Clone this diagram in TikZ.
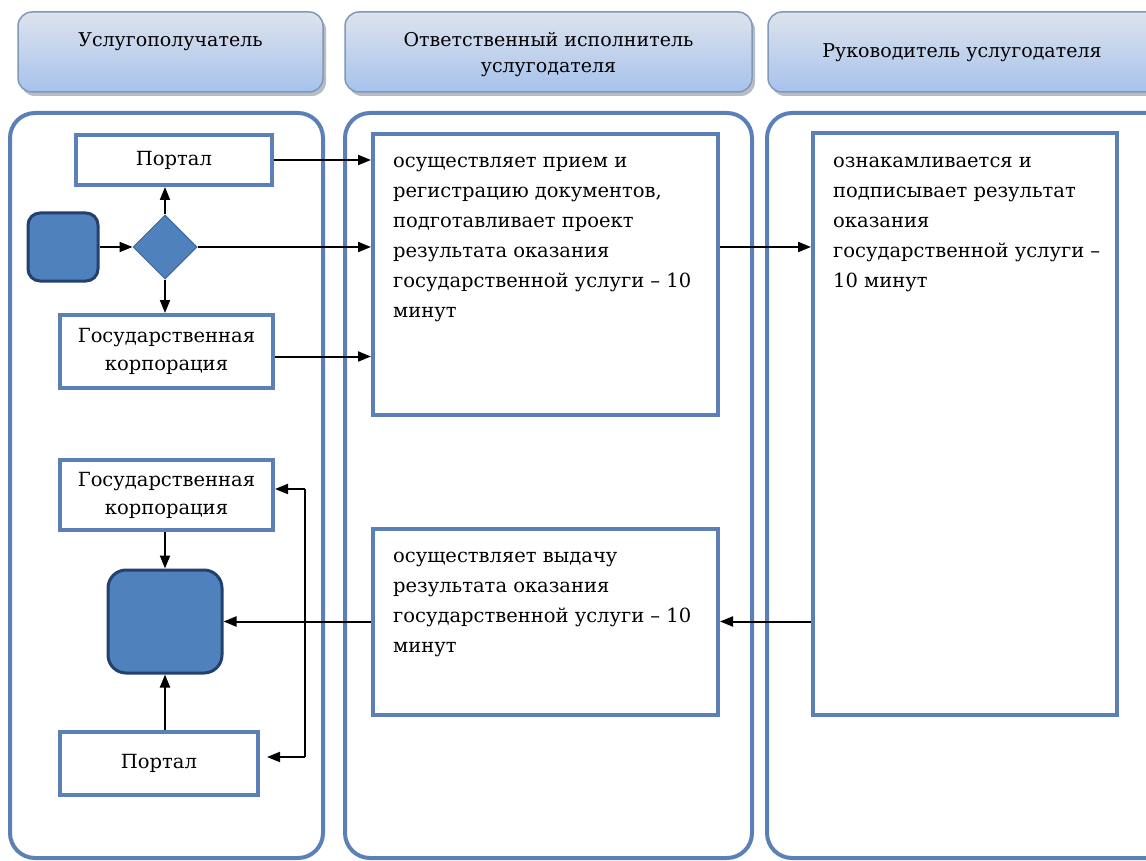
\documentclass[tikz,border=0pt]{standalone}
\usepackage{fontspec}
\setmainfont{DejaVu Serif}
\newfontfamily\tnr{DejaVu Serif}
\usetikzlibrary{shapes.geometric,arrows.meta}
\definecolor{laneblue}{HTML}{5B80B8}
\definecolor{fillblue}{HTML}{4F81BD}
\definecolor{darkblue}{HTML}{24406E}
\definecolor{hdrtop}{HTML}{DDE3EC}
\definecolor{hdrbot}{HTML}{A6C2EC}
\definecolor{hdredge}{HTML}{8298B8}
\definecolor{shadowgray}{HTML}{B8BCC4}
\begin{document}
\begin{tikzpicture}[x=1pt,y=-1pt,
  lane/.style={draw=laneblue, line width=4pt, rounded corners=25pt},
  hdr/.style={draw=hdredge, line width=1.5pt, rounded corners=14pt, top color=hdrtop, bottom color=hdrbot},
  hshadow/.style={fill=shadowgray, rounded corners=14pt},
  hdrtext/.style={font=\tnr\fontsize{19}{26}\selectfont, align=center, inner sep=0pt},
  stepbox/.style={draw=laneblue, line width=4pt, fill=white, inner sep=0pt, font=\tnr\fontsize{19.5}{28}\selectfont, align=center},
  bigbox/.style={draw=laneblue, line width=4pt, fill=white, inner sep=0pt},
  txt/.style={font=\tnr\fontsize{19.5}{30}\selectfont, align=left, anchor=north west, inner sep=0pt},
  term/.style={draw=darkblue, line width=3pt, fill=fillblue, inner sep=0pt},
  decision/.style={diamond, draw=fillblue!80!black, line width=1pt, fill=fillblue, inner sep=0pt},
  arr/.style={-{Triangle[length=13pt,width=10pt]}, line width=2pt},
  ln/.style={line width=2pt}
]
\clip (0,0) rectangle (1146,861);
\fill[white] (0,0) rectangle (1146,861);

% headers
\fill[hshadow] (21,16) rectangle (326,96);
\draw[hdr] (18,12) rectangle (323,92);
\node[hdrtext] (h1) at (170.5,42) {Услугополучатель};
\fill[hshadow] (348,16) rectangle (755,96);
\draw[hdr] (345,12) rectangle (752,92);
\node[hdrtext] (h2) at (548.5,55) {Ответственный исполнитель\\услугодателя};
\fill[hshadow] (771,16) rectangle (1170,96);
\draw[hdr] (768,12) rectangle (1167,92);
\node[hdrtext] (h3) at (962,53) {Руководитель услугодателя};

% lanes
\draw[lane] (10,113) rectangle (323,858);
\draw[lane] (345,113) rectangle (752,858);
\draw[lane] (767,113) rectangle (1180,858);

% lane 1 nodes
\node[stepbox, minimum width=196pt, minimum height=50pt] (p1) at (174,160) {Портал};
\node[term, rounded corners=12pt, minimum width=70pt, minimum height=68pt] (s) at (63,247) {};
\node[decision, minimum width=64pt, minimum height=64pt] (d) at (165,247) {};
\node[stepbox, minimum width=213pt, minimum height=73pt] (g1) at (166.5,351.5) {Государственная\\корпорация};
\node[stepbox, minimum width=213pt, minimum height=70pt] (g2) at (166.5,495) {Государственная\\корпорация};
\node[term, rounded corners=18pt, minimum width=114pt, minimum height=103pt] (e) at (165,621.5) {};
\node[stepbox, minimum width=198pt, minimum height=63pt] (p2) at (159,763.5) {Портал};

% lane 2 nodes
\node[bigbox, minimum width=345pt, minimum height=281pt] (m1) at (545.5,274.5) {};
\node[txt] (t1) at (393,146.5) {\strut осуществляет прием и\\регистрацию документов,\\подготавливает проект\\результата оказания\\государственной услуги – 10\\минут};
\node[bigbox, minimum width=345pt, minimum height=186pt] (m2) at (545.5,622) {};
\node[txt] (t2) at (393,541.5) {\strut осуществляет выдачу\\результата оказания\\государственной услуги – 10\\минут};

% lane 3 node
\node[bigbox, minimum width=304pt, minimum height=582pt] (r) at (965,424) {};
\node[txt] (t3) at (833,146.5) {\strut ознакамливается и\\подписывает результат\\оказания\\государственной услуги –\\10 минут};

% connectors
\draw[arr] (s.east) -- (d.west);
\draw[arr] (d.north) -- (d.north |- p1.south);
\draw[arr] (d.south) -- (d.south |- g1.north);
\draw[arr] (p1.east) -- (p1.east -| m1.west);
\draw[arr] (d.east) -- (d.east -| m1.west);
\draw[arr] ([yshift=-5pt]g1.east) -- ([yshift=-5pt]g1.east -| m1.west);
\draw[arr] (m1.east |- d.east) -- (r.west |- d.east);
\draw[arr] (r.west |- e.east) -- (m2.east |- e.east);
\draw[arr] (m2.west |- e.east) -- (e.east);
\draw[arr] (g2.south -| e.north) -- (e.north);
\draw[arr] (p2.north -| e.south) -- (e.south);
\coordinate (jt) at (305,489);
\coordinate (jb) at (305,757);
\draw[ln] (jt) -- (jb);
\draw[arr] (jt) -- (jt -| g2.east);
\draw[arr] (jb) -- ([xshift=7pt]jb -| p2.east);
\end{tikzpicture}
\end{document}
